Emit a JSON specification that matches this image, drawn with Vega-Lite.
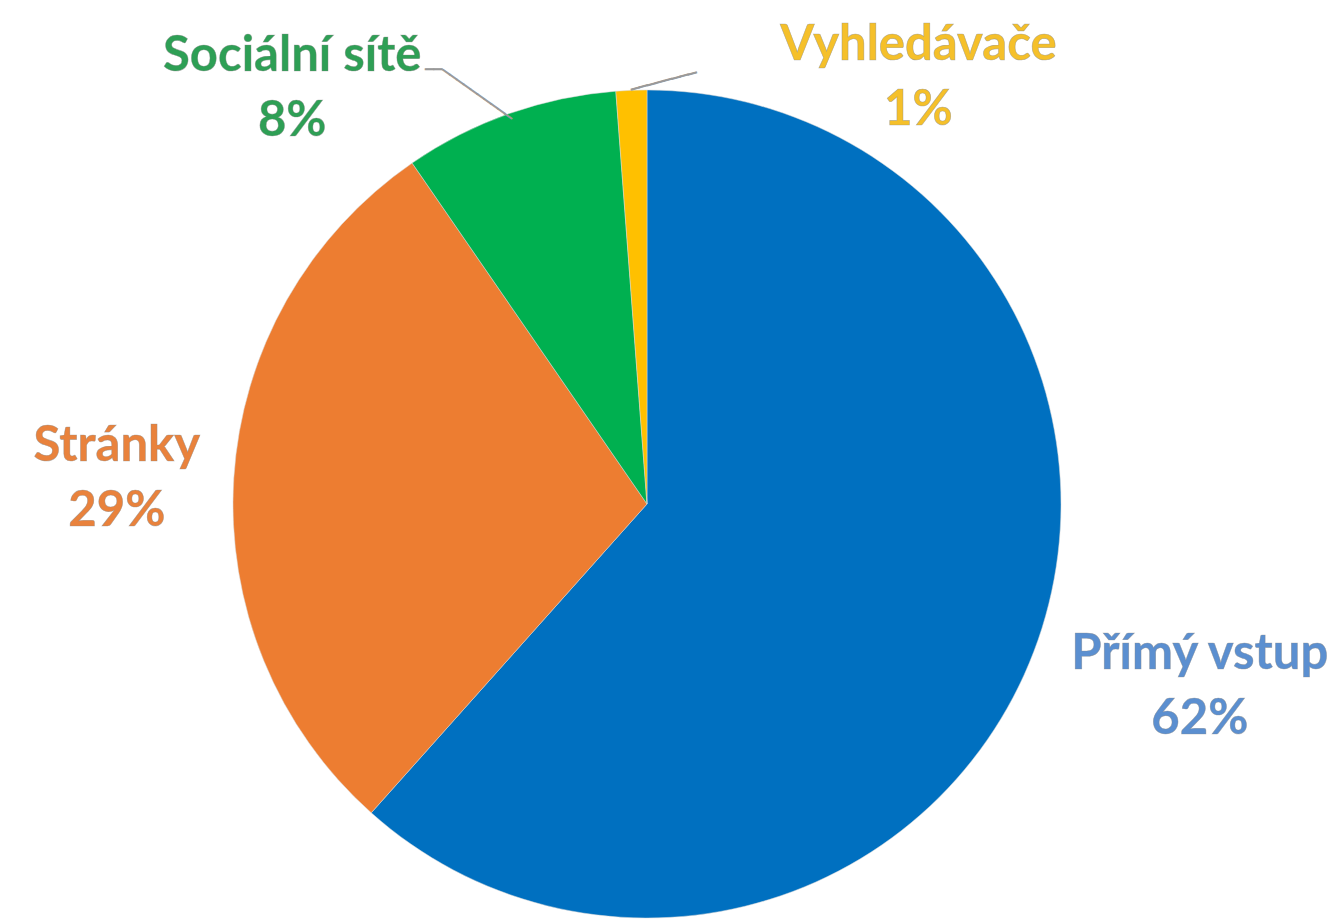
{
  "$schema": "https://vega.github.io/schema/vega-lite/v6.json",
  "autosize": "none",
  "width": 1294,
  "height": 830,
  "padding": {"left": 0, "top": 89, "right": 45, "bottom": 0},
  "background": "white",
  "config": {"view": {"stroke": null}},
  "data": {
    "values": [
      {"source": "Přímý vstup", "value": 61.6, "order": 1, "lines": ["Přímý vstup", "62%"]},
      {"source": "Stránky", "value": 28.8, "order": 2, "lines": ["Stránky", "29%"]},
      {"source": "Sociální sítě", "value": 8.4, "order": 3, "lines": ["Sociální sítě", "8%"]},
      {"source": "Vyhledávače", "value": 1.2, "order": 4, "lines": ["Vyhledávače", "1%"]}
    ]
  },
  "encoding": {
    "theta": {"field": "value", "type": "quantitative", "stack": true},
    "order": {"field": "order", "type": "quantitative"}
  },
  "layer": [
    {
      "mark": {"type": "arc", "outerRadius": 414, "stroke": "#d9d9d9", "strokeWidth": 0.5},
      "encoding": {
        "color": {
          "field": "source",
          "type": "nominal",
          "scale": {
            "domain": ["Přímý vstup", "Stránky", "Sociální sítě", "Vyhledávače"],
            "range": ["#0070C0", "#ED7D31", "#00B050", "#FFC000"]
          },
          "legend": null
        }
      }
    },
    {
      "mark": {"type": "text", "radius": 414, "dx": 166, "dy": 2, "align": "center", "baseline": "middle", "font": "Lato", "fontWeight": "bold", "fontSize": 49, "lineHeight": 65, "color": "#5B8FD0", "stroke": "#8a8a8a", "strokeWidth": 0.6, "strokeOpacity": 0.6},
      "encoding": {
        "text": {"field": "lines", "type": "nominal"},
        "opacity": {"condition": {"test": "datum.source === 'Přímý vstup'", "value": 1}, "value": 0}
      }
    },
    {
      "mark": {"type": "text", "radius": 414, "dx": -117, "dy": -32, "align": "center", "baseline": "middle", "font": "Lato", "fontWeight": "bold", "fontSize": 49, "lineHeight": 65, "color": "#E9823C", "stroke": "#8a8a8a", "strokeWidth": 0.6, "strokeOpacity": 0.6},
      "encoding": {
        "text": {"field": "lines", "type": "nominal"},
        "opacity": {"condition": {"test": "datum.source === 'Stránky'", "value": 1}, "value": 0}
      }
    },
    {
      "mark": {"type": "text", "radius": 414, "dx": -217, "dy": -58, "align": "center", "baseline": "middle", "font": "Lato", "fontWeight": "bold", "fontSize": 49, "lineHeight": 65, "color": "#2E9F55", "stroke": "#8a8a8a", "strokeWidth": 0.6, "strokeOpacity": 0.6},
      "encoding": {
        "text": {"field": "lines", "type": "nominal"},
        "opacity": {"condition": {"test": "datum.source === 'Sociální sítě'", "value": 1}, "value": 0}
      }
    },
    {
      "mark": {"type": "text", "radius": 414, "dx": 287, "dy": -45, "align": "center", "baseline": "middle", "font": "Lato", "fontWeight": "bold", "fontSize": 49, "lineHeight": 65, "color": "#F5C02A", "stroke": "#8a8a8a", "strokeWidth": 0.6, "strokeOpacity": 0.6},
      "encoding": {
        "text": {"field": "lines", "type": "nominal"},
        "opacity": {"condition": {"test": "datum.source === 'Vyhledávače'", "value": 1}, "value": 0}
      }
    },
    {
      "mark": {"type": "text", "radius": 408, "angle": 35.4, "align": "right", "baseline": "middle", "font": "DejaVu Sans", "fontSize": 14, "color": "#999999", "stroke": "#999999", "strokeWidth": 0.8},
      "encoding": {
        "text": {"value": "──────────"},
        "opacity": {"condition": {"test": "datum.source === 'Sociální sítě'", "value": 1}, "value": 0}
      }
    },
    {
      "mark": {"type": "text", "radius": 408, "dx": -69, "dy": -49, "align": "right", "baseline": "middle", "font": "DejaVu Sans", "fontSize": 14, "color": "#999999", "stroke": "#999999", "strokeWidth": 0.8},
      "encoding": {
        "text": {"value": "──"},
        "opacity": {"condition": {"test": "datum.source === 'Sociální sítě'", "value": 1}, "value": 0}
      }
    },
    {
      "mark": {"type": "text", "radius": 414, "angle": -14.7, "align": "left", "baseline": "middle", "font": "DejaVu Sans", "fontSize": 14, "color": "#999999", "stroke": "#999999", "strokeWidth": 0.8},
      "encoding": {
        "text": {"value": "────────"},
        "opacity": {"condition": {"test": "datum.source === 'Vyhledávače'", "value": 1}, "value": 0}
      }
    }
  ]
}
